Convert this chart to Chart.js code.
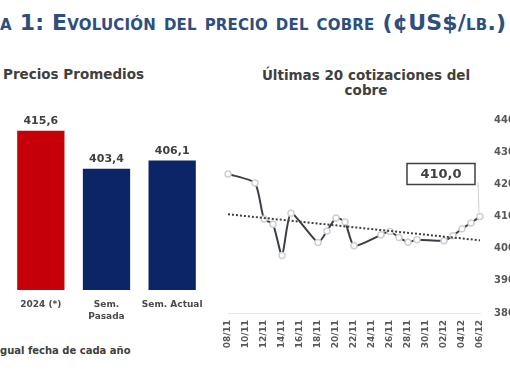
<!DOCTYPE html>
<html><head><meta charset="utf-8">
<script src="https://cdn.jsdelivr.net/npm/chart.js@4/dist/chart.umd.min.js"></script>
<style>
html,body{margin:0;padding:0;background:#fff;overflow:hidden;width:510px;height:382px;}
#wrap{position:relative;width:510px;height:382px;overflow:hidden;}
.t{position:absolute;white-space:nowrap;font-family:"DejaVu Sans",Verdana,sans-serif;font-weight:bold;}
#title{left:0;top:10px;font-size:22px;letter-spacing:0.2px;font-variant:small-caps;color:#2E4E7E;}
#bt{left:3px;top:66px;font-size:13.5px;color:#404040;}
#lt{left:216px;top:68px;width:300px;text-align:center;font-size:13.5px;line-height:15px;color:#404040;}
#fn{left:0;top:345px;font-size:10px;color:#404040;}
canvas{position:absolute;}
#bar{left:0;top:100px;}
#line{left:210px;top:100px;}
</style></head>
<body><div id="wrap">
<div class="t" id="title">a 1: Evolución del precio del cobre (¢US$/lb.)</div>
<div class="t" id="bt">Precios Promedios</div>
<div class="t" id="lt">Últimas 20 cotizaciones del<br>cobre</div>
<div class="t" id="fn">gual fecha de cada año</div>
<canvas id="bar" width="215" height="230"></canvas>
<canvas id="line" width="310" height="260"></canvas>
</div>
<script>
// ---- Data ----
const barCategories = ['2024 (*)', ['Sem.', 'Pasada'], 'Sem. Actual'];
const barValues = [415.6, 403.4, 406.1];
const barColors = ['#C50008', '#0C2566', '#0C2566'];

const dates = ['08/11','09/11','10/11','11/11','12/11','13/11','14/11','15/11','16/11','17/11',
  '18/11','19/11','20/11','21/11','22/11','23/11','24/11','25/11','26/11','27/11','28/11','29/11',
  '30/11','01/12','02/12','03/12','04/12','05/12','06/12'];
const prices = [423.2, null, null, 420.4, 409.2, 407.6, 397.9, 411.0, null, null,
  401.9, 405.5, 409.5, 408.3, 400.9, null, null, 404.3, 405.3, 403.5, 402.0, 402.8,
  null, null, 402.5, 404.0, 406.2, 408.0, 410.0];
const trendStart = 410.7;
const trendEnd = 402.6;
const yTicks = [380, 390, 400, 410, 420, 430, 440];

const fmt = v => v.toFixed(1).replace('.', ',');
const FONT = '"DejaVu Sans", Verdana, sans-serif';

// ---- Bar chart ----
const barLabelPlugin = {
  id: 'barLabels',
  afterDatasetsDraw(chart) {
    const ctx = chart.ctx;
    const meta = chart.getDatasetMeta(0);
    ctx.save();
    ctx.font = 'bold 11px ' + FONT;
    ctx.fillStyle = '#404040';
    ctx.textAlign = 'center';
    ctx.textBaseline = 'bottom';
    meta.data.forEach((el, i) => {
      ctx.fillText(fmt(barValues[i]), el.x, el.y - 4);
    });
    ctx.restore();
  }
};

new Chart(document.getElementById('bar'), {
  type: 'bar',
  data: {
    labels: barCategories,
    datasets: [{
      data: barValues,
      backgroundColor: barColors,
      borderWidth: 0,
      categoryPercentage: 1,
      barPercentage: 0.72
    }]
  },
  options: {
    responsive: false,
    animation: false,
    events: [],
    layout: { padding: { left: 8, right: 10, top: 10, bottom: 0 } },
    plugins: { legend: { display: false }, tooltip: { enabled: false } },
    scales: {
      y: { display: false, min: 364.5, max: 422.3 },
      x: {
        grid: { display: false },
        border: { display: false },
        ticks: { color: '#4a4a4a', font: { family: FONT, weight: 'bold', size: 9, lineHeight: 1.3 }, padding: 1, maxRotation: 0, autoSkip: false },
        afterFit: a => { a.height = 40; }
      }
    }
  },
  plugins: [barLabelPlugin]
});

// ---- Line chart ----
const trend = dates.map((d, i) => i === 0 ? trendStart : (i === dates.length - 1 ? trendEnd : null));

const lastLabelPlugin = {
  id: 'lastLabel',
  afterDatasetsDraw(chart) {
    const ctx = chart.ctx;
    const meta = chart.getDatasetMeta(1);
    let idx = prices.length - 1;
    while (prices[idx] == null) idx--;
    const p = meta.data[idx];
    const w = 68, h = 21;
    const right = p.x - 5, bottom = p.y - 32;
    const left = right - w, top = bottom - h;
    ctx.save();
    ctx.strokeStyle = '#cfcfcf';
    ctx.lineWidth = 1;
    ctx.beginPath();
    ctx.moveTo(right + 3, bottom - 2);
    ctx.lineTo(p.x - 1, p.y - 4);
    ctx.stroke();
    ctx.fillStyle = '#fff';
    ctx.fillRect(left, top, w, h);
    ctx.strokeStyle = '#404040';
    ctx.lineWidth = 1.5;
    ctx.strokeRect(left, top, w, h);
    ctx.font = 'bold 13px ' + FONT;
    ctx.fillStyle = '#404040';
    ctx.textAlign = 'center';
    ctx.textBaseline = 'middle';
    ctx.fillText(fmt(prices[idx]), left + w / 2, top + h / 2 + 1);
    ctx.restore();
  }
};

new Chart(document.getElementById('line'), {
  type: 'line',
  data: {
    labels: dates,
    datasets: [
      {
        data: trend,
        spanGaps: true,
        borderColor: '#404040',
        borderWidth: 2,
        borderDash: [2, 2],
        pointRadius: 0,
        tension: 0
      },
      {
        data: prices,
        spanGaps: true,
        borderColor: '#3A3E48',
        borderWidth: 2,
        tension: 0.2,
        pointRadius: 3,
        pointBackgroundColor: '#ffffff',
        pointBorderColor: '#d0d0d0',
        pointBorderWidth: 1.5
      }
    ]
  },
  options: {
    responsive: false,
    animation: false,
    events: [],
    layout: { padding: { left: 18, right: 0, top: 15, bottom: 0 } },
    plugins: { legend: { display: false }, tooltip: { enabled: false } },
    scales: {
      x: {
        offset: false,
        grid: { display: false, drawTicks: false },
        border: { display: true, color: '#e6e6e6', width: 1 },
        ticks: {
          autoSkip: false, maxRotation: 90, minRotation: 90, padding: 7,
          color: '#595959', font: { family: FONT, weight: 'bold', size: 9 },
          callback: (v, i) => (i % 2 === 0 ? dates[i] : '')
        },
        afterFit: a => { a.height = 47; }
      },
      y: {
        position: 'right',
        min: yTicks[0], max: yTicks[yTicks.length - 1],
        grid: { display: false, drawTicks: false },
        border: { display: false },
        afterBuildTicks: a => { a.ticks = yTicks.map(v => ({ value: v })); },
        ticks: { padding: 14, color: '#595959', font: { family: FONT, weight: 'bold', size: 10 } },
        afterFit: a => { a.width = 40; }
      }
    }
  },
  plugins: [lastLabelPlugin]
});
</script>
</body></html>
